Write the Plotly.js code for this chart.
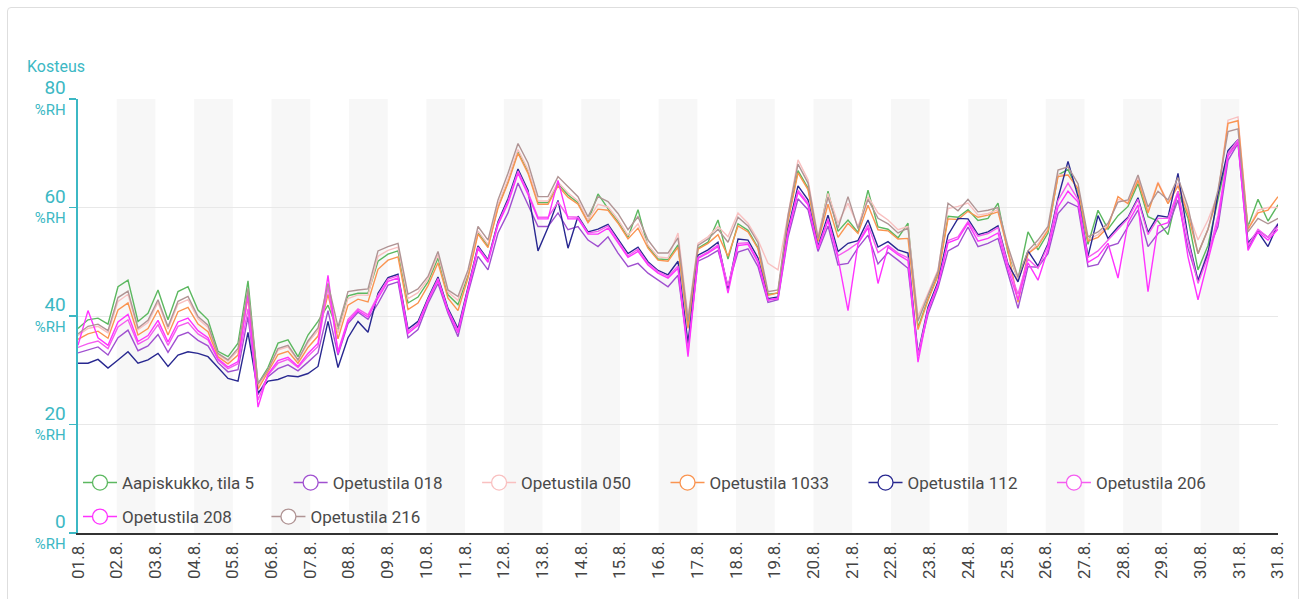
<!DOCTYPE html>
<html><head><meta charset="utf-8">
<script src="https://cdn.plot.ly/plotly-3.0.1.min.js"></script>
<style>
html,body{margin:0;padding:0;background:#fff;width:1306px;height:599px;overflow:hidden;}
#card{position:absolute;left:7px;top:7px;width:1290px;height:640px;border:1px solid #dedede;border-radius:4px;}
#chart{position:absolute;left:0;top:0;width:1306px;height:599px;}
</style></head><body><div id="card"></div><div id="chart"></div>
<script>
// ---- data (readings every ~6.2 h from 1 Aug) ----
const seriesNames = ["Aapiskukko, tila 5","Opetustila 018","Opetustila 050","Opetustila 1033","Opetustila 112","Opetustila 206","Opetustila 208","Opetustila 216"];
const seriesColors = ["#5cb860","#a050d0","#f9c0c0","#fa9450","#282890","#f55cf0","#ff33ff","#b09494"];

const aapiskukko = [37.7,39.3,39.6,38.5,45.4,46.6,39.0,40.5,44.8,39.3,
44.5,45.4,41.1,39.3,33.5,32.5,35.0,46.5,27.5,30.5,
35.0,35.6,32.5,36.5,39.0,42.0,37.3,43.7,44.2,44.2,
50.1,51.4,52.0,42.4,43.5,46.3,50.7,43.9,42.1,47.6,
55.4,52.9,60.2,64.8,70.3,66.7,60.9,60.9,64.4,62.3,
60.9,57.4,62.5,59.8,57.4,54.5,59.6,52.8,50.5,50.4,
53.1,38.1,52.5,53.6,57.7,50.5,57.0,55.8,52.6,44.0,
44.2,57.8,66.8,63.6,53.9,63.0,55.6,57.7,55.4,63.2,
56.4,56.0,54.4,57.1,37.9,43.1,47.6,58.4,58.2,59.6,
57.6,58.0,60.8,51.6,46.8,55.5,52.2,55.3,66.0,67.0,
63.0,53.2,59.5,56.0,58.5,60.2,64.4,58.3,57.5,55.0,
63.0,58.0,48.5,53.0,61.5,70.0,72.0,56.5,61.5,57.5,60.5];

const ope018 = [33.2,33.7,34.3,32.8,36.0,37.4,33.6,34.5,36.6,33.3,
36.3,37.0,35.5,34.5,31.4,29.7,30.1,39.9,25.5,28.8,
30.3,31.0,29.9,31.5,33.2,41.0,32.8,38.6,40.7,39.4,
42.3,45.7,46.3,36.0,37.5,42.3,46.0,40.5,36.2,44.2,
51.0,48.5,55.3,59.0,64.5,60.5,56.5,56.5,59.0,55.9,
56.5,54.0,52.8,54.6,51.6,49.1,49.7,47.9,46.7,45.4,
47.5,34.0,50.1,51.0,52.1,45.5,51.8,52.4,49.1,42.5,
43.0,54.5,61.6,59.6,51.9,56.6,49.4,49.7,52.6,54.9,
49.6,51.7,50.3,48.8,32.7,40.3,45.2,52.0,53.0,56.4,
52.8,53.4,54.3,47.9,41.4,49.1,49.0,51.5,58.9,61.0,
60.1,49.1,49.5,52.8,53.4,56.5,59.5,52.8,55.2,56.5,
61.4,52.5,46.5,52.0,56.5,68.7,71.8,52.5,55.8,54.5,57.0];

const ope050 = [36.4,37.7,38.1,36.9,42.7,44.0,37.5,38.8,42.5,37.6,
42.2,43.0,39.5,37.9,32.9,31.7,33.6,44.6,27.0,30.0,
33.7,34.3,31.8,35.1,37.3,45.0,36.9,43.2,43.9,43.8,
51.0,52.1,52.7,43.2,44.3,46.8,51.3,44.4,42.9,48.1,
55.7,53.2,60.5,65.2,70.7,67.0,61.2,61.2,64.7,62.7,
61.2,57.7,60.6,60.1,57.8,54.9,57.0,53.1,50.9,50.7,
55.3,39.9,53.4,54.6,56.5,54.6,59.0,57.1,54.0,49.7,
48.5,59.0,68.8,65.1,54.6,62.6,57.1,60.8,56.5,62.0,
59.0,57.7,55.9,56.5,39.9,44.2,48.5,59.8,60.2,60.8,
58.6,58.9,59.6,52.3,46.6,51.5,53.3,56.0,66.1,66.0,
63.5,54.1,55.0,56.7,61.5,60.9,65.4,59.4,64.7,60.9,
64.5,59.2,54.0,57.7,62.5,76.1,76.7,56.0,59.5,60.0,60.0];

const ope1033 = [35.7,36.7,37.2,35.9,41.1,42.4,36.5,37.7,41.1,36.5,
40.8,41.6,38.5,37.1,32.5,31.2,32.8,43.5,26.5,29.7,
32.9,33.5,31.3,34.2,36.3,44.0,35.8,42.0,43.1,42.6,
48.6,50.3,50.9,41.2,42.4,45.6,49.8,43.3,41.0,47.0,
55.1,52.6,59.9,64.5,70.0,66.3,60.6,60.6,64.0,61.9,
60.6,57.2,59.7,59.5,57.1,54.2,56.2,52.5,50.3,50.1,
52.7,37.7,52.3,53.4,55.0,51.0,56.6,55.5,52.4,43.8,
44.3,57.5,66.4,63.3,53.7,60.6,54.5,57.1,55.2,60.4,
55.9,55.7,54.2,54.3,37.5,42.9,47.4,57.9,57.8,59.3,
58.2,58.6,59.2,52.1,42.5,51.5,52.9,55.8,65.7,66.0,
63.5,53.8,54.5,56.4,62.0,60.7,65.0,59.0,64.5,60.7,
64.0,58.7,51.5,56.0,62.3,75.5,76.0,56.0,59.0,59.5,62.0];

const ope112 = [31.3,31.3,32.0,30.4,31.9,33.4,31.3,31.9,33.1,30.7,
32.8,33.4,33.1,32.5,30.5,28.5,28.0,37.0,25.8,28.0,
28.3,29.0,28.8,29.4,30.7,39.0,30.5,36.0,39.0,37.0,
44.2,47.1,47.7,37.6,39.0,43.3,47.2,41.4,37.7,45.1,
52.9,50.4,57.4,61.6,67.1,63.2,52.0,56.3,61.3,52.5,
58.4,55.5,56.0,56.9,54.2,51.5,52.7,50.0,48.4,47.6,
50.1,35.0,51.2,52.2,53.6,45.0,54.2,54.0,50.7,43.2,
43.5,56.0,64.0,61.4,52.8,58.6,51.9,53.4,53.9,57.7,
52.7,53.7,52.2,51.6,33.0,41.6,46.3,54.9,58.0,57.9,
55.0,55.5,56.6,49.6,46.3,52.0,49.2,53.3,61.7,68.5,
62.0,51.0,58.5,54.3,56.4,58.2,61.8,55.4,58.5,58.2,
66.3,54.5,46.5,51.5,62.5,70.5,72.5,53.5,55.5,52.8,57.0];

const ope206 = [34.2,34.9,35.4,34.0,38.0,39.3,34.8,35.8,38.4,34.6,
38.1,38.8,36.7,35.6,31.9,30.3,31.2,41.3,24.5,29.1,
31.3,32.0,30.5,32.6,34.4,45.5,33.5,39.4,41.3,40.2,
43.8,46.8,47.4,37.2,38.6,43.1,46.9,41.1,37.3,44.8,
52.7,50.2,57.1,61.2,66.7,62.8,58.2,58.2,61.0,58.3,
58.2,55.3,55.6,56.6,53.8,51.1,52.3,49.7,48.2,47.3,
49.2,33.5,50.8,51.8,53.1,45.5,53.4,53.5,50.2,43.0,
43.3,55.5,63.2,60.8,52.5,57.9,51.1,52.2,53.5,56.8,
51.7,53.0,51.6,50.7,32.8,41.2,45.9,53.9,54.6,57.4,
54.7,55.2,56.3,49.4,44.0,50.5,48.8,53.0,61.3,64.5,
61.5,50.8,52.0,54.1,56.0,58.0,61.5,55.0,58.0,58.0,
63.0,54.0,46.0,51.0,58.5,70.0,72.5,53.0,56.0,54.5,56.5];

const ope208 = [34.6,41.0,36.0,34.6,38.9,40.3,35.3,36.4,39.2,35.2,
38.9,39.6,37.3,36.0,32.1,30.6,31.6,44.0,23.2,29.3,
31.8,32.4,30.7,33.1,35.0,47.5,33.1,39.0,41.0,39.8,
43.3,46.4,47.0,36.8,38.3,42.8,46.6,40.9,36.9,44.6,
52.4,49.9,56.8,60.8,66.3,62.4,57.9,57.9,65.0,57.9,
57.9,55.1,55.1,56.2,53.4,50.8,51.9,49.4,47.9,47.0,
48.8,32.5,50.6,51.6,52.8,44.2,53.0,53.2,49.9,42.9,
43.2,55.3,62.8,60.5,52.4,57.6,50.7,41.0,53.3,56.3,
46.0,52.7,51.3,50.2,31.5,41.0,45.7,53.5,54.2,57.1,
53.8,54.3,55.3,48.6,43.0,49.8,46.6,52.3,60.1,63.0,
61.0,49.9,51.0,53.4,47.0,57.2,60.5,44.5,56.6,57.2,
62.5,50.9,43.0,50.3,57.5,69.5,72.0,52.1,55.5,54.0,56.0];

const ope216 = [36.7,38.1,38.5,37.3,43.4,44.6,37.8,39.2,43.0,38.0,
42.7,43.6,39.9,38.3,33.1,31.9,34.0,45.1,27.5,30.1,
34.0,34.6,31.9,35.4,37.8,46.0,38.0,44.5,44.8,45.0,
52.0,52.8,53.4,44.0,45.0,47.3,51.9,44.8,43.6,48.5,
56.5,54.0,61.4,66.3,71.8,68.2,62.0,62.0,65.7,63.9,
62.0,58.3,62.0,61.1,58.9,55.9,58.3,54.0,51.6,51.6,
54.4,39.2,53.0,54.2,56.0,53.6,58.2,56.6,53.5,44.5,
44.8,58.5,68.0,64.5,54.3,61.9,56.2,62.0,56.1,61.5,
58.0,57.0,55.3,56.2,39.1,43.8,48.2,60.8,59.4,61.5,
59.2,59.5,60.0,52.8,47.2,52.0,54.0,56.5,66.9,67.5,
64.4,54.6,55.5,57.1,61.0,61.4,66.0,60.1,63.0,61.4,
65.5,60.1,51.5,56.0,63.2,74.0,74.5,55.5,58.0,57.0,58.0];

const seriesValues = [aapiskukko, ope018, ope050, ope1033, ope112, ope206, ope208, ope216];
const legendRow = [1, 1, 1, 1, 1, 1, 2, 2];

const yTickValues = [0, 20, 40, 60, 80];
const yUnit = "%RH";
const axisTitle = "Kosteus";
const monthNo = 8;
const yearNo = 2023;

// ---- time grid ----
const stepMinutes = 372;
const startMs = Date.UTC(yearNo, monthNo - 1, 1);
function fmt(ms){ return new Date(ms).toISOString().slice(0,16).replace('T',' '); }
const times = aapiskukko.map((_, i) => fmt(startMs + i * stepMinutes * 60000));

// day ticks 01.8. .. 31.8. plus end-of-month tick
const tickVals = [], tickText = [];
for (let d = 1; d <= 31; d++) {
  tickVals.push(fmt(Date.UTC(yearNo, monthNo - 1, d)));
  tickText.push(String(d).padStart(2,'0') + '.' + monthNo + '.');
}
tickVals.push(fmt(Date.UTC(yearNo, monthNo, 1) - 60000));
tickText.push('31.' + monthNo + '.');

// alternating day bands
const shapes = [];
for (let d = 2; d <= 30; d += 2) {
  shapes.push({type:'rect', xref:'x', yref:'paper', layer:'below',
    x0: fmt(Date.UTC(yearNo, monthNo - 1, d)), x1: fmt(Date.UTC(yearNo, monthNo - 1, d + 1)),
    y0: 0, y1: 1, fillcolor:'#f7f7f7', line:{width:0}});
}

const pad = '\u00a0'.repeat(7);
const traces = [];
seriesValues.forEach((vals, k) => {
  traces.push({x: times, y: vals, type:'scatter', mode:'lines', name: seriesNames[k],
    line:{color: seriesColors[k], width:1.4}, showlegend:false, hoverinfo:'skip'});
});
seriesNames.forEach((nm, k) => {
  traces.push({x:[null], y:[null], type:'scatter', mode:'lines+markers', name: nm + pad,
    legend: legendRow[k] === 1 ? 'legend' : 'legend2',
    line:{color: seriesColors[k], width:1.5},
    marker:{symbol:'circle', size:15, color:'#ffffff', line:{color: seriesColors[k], width:1.3}},
    showlegend:true});
});

const cyan = '#3cb8c4';
const legendCommon = {orientation:'h', x:0, xanchor:'left', yanchor:'middle',
    bgcolor:'rgba(0,0,0,0)', font:{size:17, color:'#4a4a4a'}, itemwidth:34};
const layout = {
  width:1306, height:599,
  margin:{l:78, r:28, t:99, b:66},
  paper_bgcolor:'rgba(0,0,0,0)', plot_bgcolor:'#ffffff',
  font:{family:'Roboto, Arial, sans-serif', color:'#444'},
  showlegend:true,
  legend: Object.assign({}, legendCommon, {y:0.1152}),
  legend2: Object.assign({}, legendCommon, {y:0.0369}),
  xaxis:{type:'date', range:[fmt(startMs), fmt(Date.UTC(yearNo, monthNo, 1))],
    tickmode:'array', tickvals:tickVals, ticktext:tickText, tickangle:-90,
    tickfont:{size:17, color:'#444'}, showgrid:false, zeroline:false,
    showline:true, linecolor:'#333', linewidth:1.5, ticks:'', fixedrange:true},
  yaxis:{range:[0,80], tickmode:'array', tickvals:yTickValues,
    ticktext: yTickValues.map(v => '<span style="font-size:19px">' + v + '</span><br><span style="font-size:15px">' + yUnit + '</span>'),
    tickfont:{size:16, color:cyan}, showgrid:true, gridcolor:'#e8e8e8', gridwidth:1,
    zeroline:false, showline:true, linecolor:cyan, linewidth:2,
    ticks:'outside', ticklen:7, tickcolor:cyan, tickwidth:1.5, fixedrange:true},
  shapes: shapes,
  annotations:[{text:axisTitle, xref:'paper', yref:'paper', x:0, y:1, xanchor:'right', yanchor:'bottom',
    xshift:9, yshift:21, showarrow:false, font:{size:16, color:cyan}}]
};

Plotly.newPlot('chart', traces, layout, {staticPlot:true, displayModeBar:false});
</script></body></html>
